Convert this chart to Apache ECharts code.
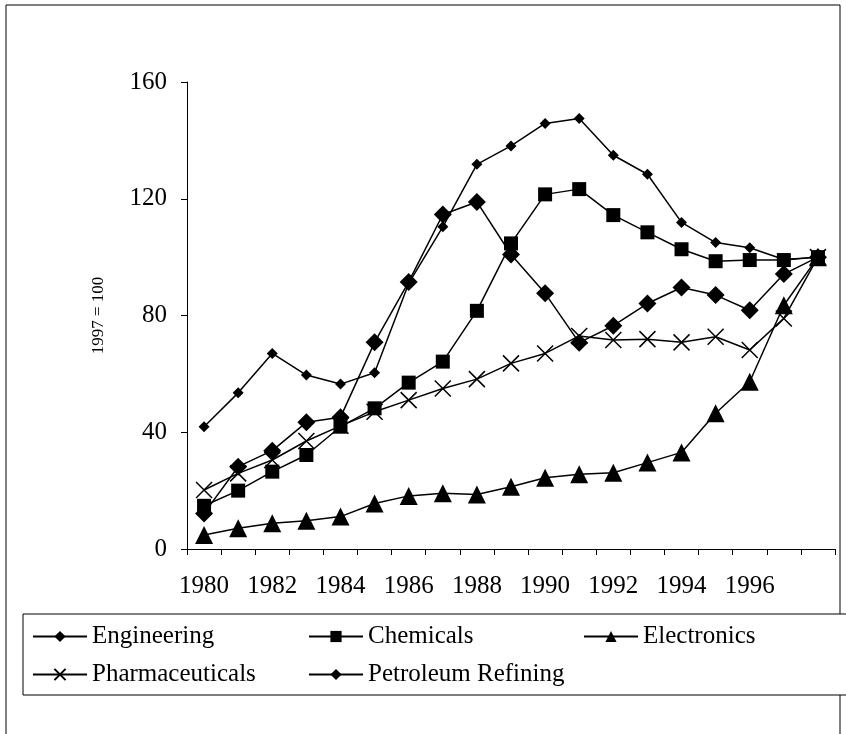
<!DOCTYPE html>
<html>
<head>
<meta charset="utf-8">
<script src="https://cdn.jsdelivr.net/npm/echarts@6/dist/echarts.min.js"></script>
<style>
  html, body { margin: 0; padding: 0; background: #fff; }
  #chart { width: 846px; height: 734px; }
</style>
</head>
<body>
<div id="chart"></div>
<script>
const years = ['1980', '1981', '1982', '1983', '1984', '1985', '1986', '1987', '1988', '1989',
  '1990', '1991', '1992', '1993', '1994', '1995', '1996', '1997', '1998'];
const engineering = [12.2, 28.2, 33.7, 43.4, 45.1, 70.8, 91.5, 114.6, 118.9, 100.9,
  87.6, 70.7, 76.5, 84.1, 89.6, 87.0, 81.8, 94.2, 100];
const chemicals = [14.8, 20.0, 26.5, 32.2, 41.9, 48.2, 57.0, 64.2, 81.6, 104.7,
  121.5, 123.3, 114.4, 108.5, 102.7, 98.6, 99.0, 99.0, 100];
const electronics = [4.8, 7.1, 8.8, 9.7, 11.1, 15.6, 18.2, 19.1, 18.7, 21.3,
  24.4, 25.6, 26.1, 29.6, 33.1, 46.5, 57.3, 83.5, 100];
const pharmaceuticals = [20.2, 25.9, 30.5, 37.0, 42.2, 47.0, 51.0, 55.0, 58.2, 63.6,
  67.0, 73.0, 71.6, 71.9, 70.8, 72.7, 68.2, 79.0, 100];
const petroleum = [41.9, 53.5, 67.0, 59.6, 56.5, 60.4, 91.0, 110.4, 131.8, 138.1,
  145.8, 147.5, 134.9, 128.4, 111.9, 105.0, 103.2, 99.2, 100];
const yTicks = [0, 40, 80, 120, 160];

const font = 'Liberation Serif';
const cross = 'path://M0,0L10,10M10,0L0,10';

function makeSeries(name, data, symbol, size) {
  return {
    name: name,
    type: 'line',
    data: data,
    symbol: symbol,
    symbolSize: size,
    lineStyle: { color: '#000', width: 1.5 },
    itemStyle: { color: '#000', borderColor: '#000', borderWidth: symbol === cross ? 1.5 : 0 },
    emphasis: { disabled: true },
    animation: false
  };
}

function legendItem(name, left, top) {
  return {
    data: [name],
    left: left,
    top: top,
    itemWidth: 54,
    itemHeight: 14,
    padding: 0,
    selectedMode: false,
    textStyle: { fontFamily: font, fontSize: 25, color: '#000', padding: [0, 0, 0, 0] }
  };
}

const chart = echarts.init(document.getElementById('chart'));
const option = {
  backgroundColor: '#fff',
  animation: false,
  grid: { left: 187, right: 11, top: 82, bottom: 185 },
  graphic: [
    {
      type: 'rect',
      shape: { x: 6, y: 5, width: 834, height: 740 },
      style: { fill: 'none', stroke: '#000', lineWidth: 1 },
      z: -1
    },
    {
      type: 'rect',
      shape: { x: 23, y: 614, width: 840, height: 81 },
      style: { fill: '#fff', stroke: '#000', lineWidth: 1 },
      z: 0
    }
  ],
  legend: [
    legendItem('Engineering', 32, 624),
    legendItem('Chemicals', 308, 624),
    legendItem('Electronics', 583, 624),
    legendItem('Pharmaceuticals', 32, 662),
    legendItem('Petroleum Refining', 308, 662)
  ],
  xAxis: {
    type: 'category',
    data: years,
    boundaryGap: true,
    axisLine: { lineStyle: { color: '#000', width: 1 } },
    axisTick: { show: true, interval: 0, length: 6, lineStyle: { color: '#000' } },
    axisLabel: {
      interval: 1,
      margin: 25,
      color: '#000',
      fontFamily: font,
      fontSize: 25,
      formatter: function (v) { return v === '1998' ? '' : v; }
    },
    splitLine: { show: false }
  },
  yAxis: {
    type: 'value',
    min: yTicks[0],
    max: yTicks[yTicks.length - 1],
    interval: 40,
    name: '1997 = 100',
    nameLocation: 'middle',
    nameGap: 80,
    nameTextStyle: { fontFamily: font, fontSize: 17, color: '#000' },
    axisLine: { show: true, lineStyle: { color: '#000', width: 1 } },
    axisTick: { show: true, length: 6, lineStyle: { color: '#000' } },
    axisLabel: { margin: 20, color: '#000', fontFamily: font, fontSize: 25 },
    splitLine: { show: false }
  },
  series: [
    makeSeries('Engineering', engineering, 'diamond', 18),
    makeSeries('Chemicals', chemicals, 'rect', 14),
    makeSeries('Electronics', electronics, 'triangle', 18),
    makeSeries('Pharmaceuticals', pharmaceuticals, cross, 16),
    makeSeries('Petroleum Refining', petroleum, 'diamond', 11)
  ]
};
chart.setOption(option);
</script>
</body>
</html>
